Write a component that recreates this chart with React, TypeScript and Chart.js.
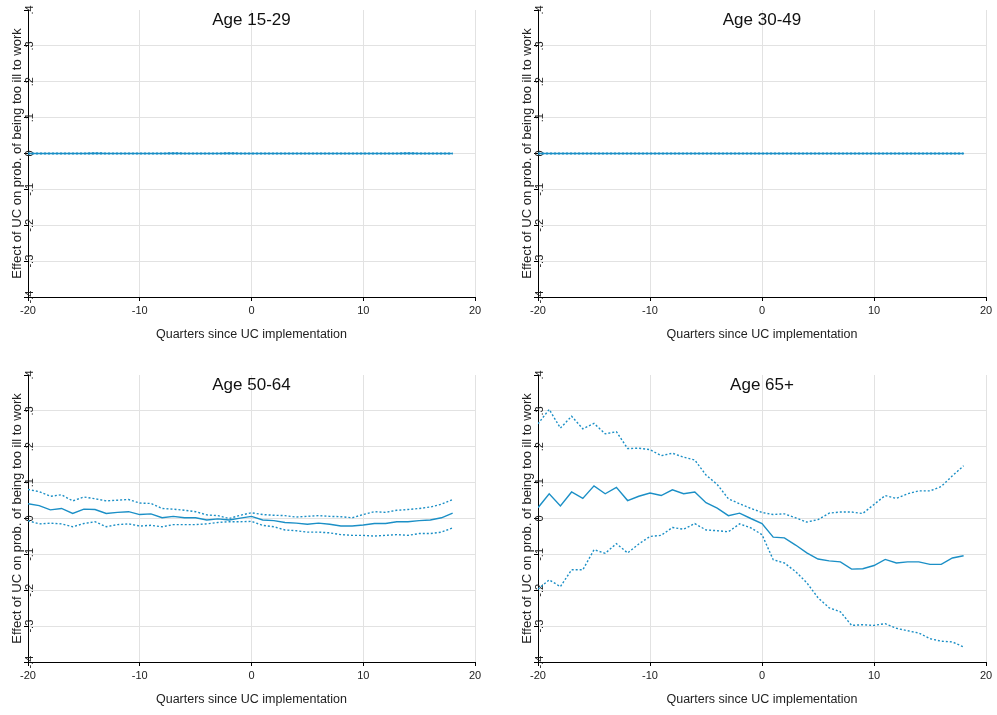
import React, { useEffect, useRef } from "react";
import { Chart, registerables } from "chart.js";

Chart.register(...registerables);

const quarters = [-20, -19, -18, -17, -16, -15, -14, -13, -12, -11, -10, -9, -8, -7, -6, -5, -4, -3, -2, -1, 0, 1, 2, 3, 4, 5, 6, 7, 8, 9, 10, 11, 12, 13, 14, 15, 16, 17, 18];

const yTickValues = [-0.4, -0.3, -0.2, -0.1, 0, 0.1, 0.2, 0.3, 0.4];
const xTickValues = [-20, -10, 0, 10, 20];

const titles = ["Age 15-29", "Age 30-49", "Age 50-64", "Age 65+"];
const xTitle = "Quarters since UC implementation";
const yTitle = "Effect of UC on prob. of being too ill to work";

// Age 15-29
const est1529 = [0, 0, 0, 0, 0, 0, 0.0005, 0, 0, 0, 0, 0, 0, 0.0005, 0, 0, 0, 0, 0.0005, 0, 0, 0, 0, 0, 0, 0, 0, 0, 0, 0, 0, 0, 0, 0, 0.0005, 0, 0, 0, 0];
const hi1529 = [0.001, 0.001, 0.001, 0.001, 0.001, 0.001, 0.0015, 0.001, 0.001, 0.001, 0.001, 0.001, 0.001, 0.0015, 0.001, 0.001, 0.001, 0.001, 0.0015, 0.001, 0.001, 0.001, 0.001, 0.001, 0.001, 0.001, 0.001, 0.001, 0.001, 0.001, 0.001, 0.001, 0.001, 0.001, 0.0015, 0.001, 0.001, 0.001, 0.001];
const lo1529 = [-0.001, -0.001, -0.001, -0.001, -0.001, -0.001, -0.0005, -0.001, -0.001, -0.001, -0.001, -0.001, -0.001, -0.0005, -0.001, -0.001, -0.001, -0.001, -0.0005, -0.001, -0.001, -0.001, -0.001, -0.001, -0.001, -0.001, -0.001, -0.001, -0.001, -0.001, -0.001, -0.001, -0.001, -0.001, -0.0005, -0.001, -0.001, -0.001, -0.001];

// Age 30-49
const est3049 = [0, 0, 0, 0, 0, 0, 0, 0, 0, 0, 0, 0, 0, 0, 0, 0, 0, 0, 0, 0, 0, 0, 0, 0, 0, 0, 0, 0, 0, 0, 0, 0, 0, 0, 0, 0, 0, 0, 0];
const hi3049 = [0.0008, 0.0008, 0.0008, 0.0008, 0.0008, 0.0008, 0.0008, 0.0008, 0.0008, 0.0008, 0.0008, 0.0008, 0.0008, 0.0008, 0.0008, 0.0008, 0.0008, 0.0008, 0.0008, 0.0008, 0.001, 0.001, 0.001, 0.001, 0.001, 0.001, 0.0008, 0.0008, 0.0008, 0.0008, 0.0008, 0.0008, 0.0008, 0.0008, 0.0008, 0.0008, 0.0008, 0.0008, 0.0008];
const lo3049 = [-0.0008, -0.0008, -0.0008, -0.0008, -0.0008, -0.0008, -0.0008, -0.0008, -0.0008, -0.0008, -0.0008, -0.0008, -0.0008, -0.0008, -0.0008, -0.0008, -0.0008, -0.0008, -0.0008, -0.0008, -0.0008, -0.0008, -0.0008, -0.0008, -0.0008, -0.0008, -0.0008, -0.0008, -0.0008, -0.0008, -0.0008, -0.0008, -0.0008, -0.0008, -0.0008, -0.0008, -0.0008, -0.0008, -0.0008];

// Age 50-64
const est5064 = [0.041, 0.036, 0.024, 0.028, 0.014, 0.026, 0.025, 0.014, 0.017, 0.019, 0.011, 0.013, 0.002, 0.006, 0.002, 0.002, -0.004, -0.001, -0.004, 0.001, 0.006, -0.004, -0.006, -0.011, -0.013, -0.016, -0.013, -0.016, -0.021, -0.021, -0.018, -0.014, -0.014, -0.009, -0.009, -0.006, -0.004, 0.002, 0.015];
const hi5064 = [0.081, 0.075, 0.062, 0.066, 0.049, 0.06, 0.055, 0.049, 0.051, 0.053, 0.043, 0.042, 0.028, 0.026, 0.023, 0.019, 0.01, 0.008, 0.0, 0.009, 0.016, 0.011, 0.009, 0.008, 0.004, 0.006, 0.008, 0.006, 0.005, 0.002, 0.011, 0.019, 0.017, 0.023, 0.025, 0.028, 0.032, 0.04, 0.053];
const lo5064 = [-0.006, -0.015, -0.013, -0.015, -0.023, -0.014, -0.009, -0.023, -0.017, -0.015, -0.021, -0.019, -0.023, -0.017, -0.017, -0.017, -0.015, -0.011, -0.009, -0.009, -0.008, -0.019, -0.023, -0.032, -0.034, -0.038, -0.038, -0.04, -0.045, -0.047, -0.047, -0.049, -0.047, -0.045, -0.047, -0.042, -0.042, -0.038, -0.026];

// Age 65+
const est65 = [0.03, 0.069, 0.035, 0.074, 0.056, 0.091, 0.069, 0.087, 0.05, 0.062, 0.071, 0.064, 0.08, 0.069, 0.074, 0.044, 0.029, 0.008, 0.015, 0.0, -0.014, -0.052, -0.054, -0.074, -0.096, -0.113, -0.118, -0.121, -0.141, -0.14, -0.131, -0.114, -0.124, -0.121, -0.121, -0.128, -0.128, -0.11, -0.104];
const hi65 = [0.264, 0.304, 0.252, 0.285, 0.25, 0.265, 0.236, 0.242, 0.195, 0.196, 0.192, 0.175, 0.182, 0.171, 0.163, 0.121, 0.095, 0.055, 0.041, 0.028, 0.017, 0.011, 0.013, 0.002, -0.01, -0.003, 0.015, 0.018, 0.018, 0.014, 0.039, 0.064, 0.056, 0.069, 0.077, 0.077, 0.089, 0.119, 0.147];
const lo65 = [-0.197, -0.171, -0.19, -0.143, -0.143, -0.087, -0.097, -0.07, -0.096, -0.071, -0.05, -0.047, -0.025, -0.03, -0.014, -0.032, -0.034, -0.037, -0.015, -0.026, -0.045, -0.115, -0.124, -0.148, -0.179, -0.221, -0.249, -0.26, -0.298, -0.296, -0.298, -0.293, -0.306, -0.313, -0.319, -0.335, -0.342, -0.344, -0.358];

const panelEst = [est1529, est3049, est5064, est65];
const panelHi = [hi1529, hi3049, hi5064, hi65];
const panelLo = [lo1529, lo3049, lo5064, lo65];

const LINE = "#1b8fc6";
const FONT = "'Liberation Sans', Arial, Helvetica, sans-serif";

type Box = { left: number; top: number; width: number; height: number; padTop: number; padRight: number; xHeight: number; xTitlePad: number };

const boxes: Box[] = [
  { left: 0, top: 0, width: 500, height: 357, padTop: 10, padRight: 25, xHeight: 60, xTitlePad: 15 },
  { left: 510, top: 0, width: 487, height: 357, padTop: 10, padRight: 11, xHeight: 60, xTitlePad: 15 },
  { left: 0, top: 357, width: 500, height: 358, padTop: 18, padRight: 25, xHeight: 53, xTitlePad: 8 },
  { left: 510, top: 357, width: 487, height: 358, padTop: 18, padRight: 11, xHeight: 53, xTitlePad: 8 },
];

function fmtY(v: number): string {
  const r = Math.round(v * 10);
  if (r === 0) return "0";
  return (r < 0 ? "-" : "") + "." + Math.abs(r);
}

const panelTitlePlugin = {
  id: "panelTitle",
  afterDraw(chart: any, _args: any, opts: any) {
    const { ctx, chartArea } = chart;
    ctx.save();
    ctx.font = `17px ${FONT}`;
    ctx.fillStyle = "#111";
    ctx.textAlign = "center";
    ctx.textBaseline = "middle";
    ctx.fillText(opts.text, (chartArea.left + chartArea.right) / 2, chartArea.top + 10);
    ctx.restore();
  },
};

function Panel({ idx }: { idx: number }) {
  const ref = useRef<HTMLCanvasElement | null>(null);
  const b = boxes[idx];
  useEffect(() => {
    if (!ref.current) return;
    const mk = (arr: number[]) => quarters.map((q, i) => ({ x: q, y: arr[i] }));
    const chart = new Chart(ref.current, {
      type: "line",
      data: {
        datasets: [
          { data: mk(panelHi[idx]), borderColor: LINE, borderWidth: 1.4, borderDash: [2, 2], pointRadius: 0, fill: false },
          { data: mk(panelLo[idx]), borderColor: LINE, borderWidth: 1.4, borderDash: [2, 2], pointRadius: 0, fill: false },
          { data: mk(panelEst[idx]), borderColor: LINE, borderWidth: 1.4, pointRadius: 0, fill: false },
        ],
      },
      options: {
        responsive: false,
        animation: false,
        devicePixelRatio: 1,
        layout: { padding: { left: 0, right: b.padRight, top: b.padTop, bottom: 0 } },
        plugins: {
          legend: { display: false },
          tooltip: { enabled: false },
          panelTitle: { text: titles[idx] },
        } as any,
        scales: {
          x: {
            type: "linear",
            min: -20,
            max: 20,
            afterBuildTicks: (scale: any) => {
              scale.ticks = xTickValues.map((v) => ({ value: v }));
            },
            afterFit: (scale: any) => {
              scale.height = b.xHeight;
            },
            ticks: {
              font: { family: FONT, size: 11 },
              color: "#222",
              padding: 3,
              maxRotation: 0,
              minRotation: 0,
              autoSkip: false,
            },
            grid: {
              color: (ctx: any) => (ctx.tick && ctx.tick.value === -20 ? "rgba(0,0,0,0)" : "#e2e2e2"),
              lineWidth: 1,
              tickLength: 4,
              tickColor: "#000",
              drawTicks: true,
            },
            border: { display: true, color: "#000", width: 1 },
            title: {
              display: true,
              text: xTitle,
              font: { family: FONT, size: 12.5 },
              color: "#222",
              padding: { top: 0, bottom: b.xTitlePad },
            },
          },
          y: {
            type: "linear",
            min: -0.4,
            max: 0.4,
            afterBuildTicks: (scale: any) => {
              scale.ticks = yTickValues.map((v) => ({ value: v }));
            },
            afterFit: (scale: any) => {
              scale.width = 28;
            },
            ticks: {
              font: { family: FONT, size: 11 },
              color: "#222",
              minRotation: 90,
              maxRotation: 90,
              mirror: true,
              crossAlign: "center",
              padding: -4,
              autoSkip: false,
              callback: (v: any) => fmtY(Number(v)),
            },
            grid: {
              color: (ctx: any) =>
                ctx.tick && Math.abs(Math.abs(ctx.tick.value) - 0.4) < 1e-6 ? "rgba(0,0,0,0)" : "#e2e2e2",
              lineWidth: 1,
              tickLength: 4,
              tickColor: "#000",
              drawTicks: true,
            },
            border: { display: true, color: "#000", width: 1 },
            title: {
              display: true,
              text: yTitle,
              font: { family: FONT, size: 13 },
              color: "#222",
              padding: { top: 10, bottom: 0 },
            },
          },
        },
      } as any,
      plugins: [panelTitlePlugin],
    });
    return () => chart.destroy();
  }, [idx]);
  return (
    <canvas
      ref={ref}
      width={b.width}
      height={b.height}
      style={{ position: "absolute", left: b.left, top: b.top, width: b.width, height: b.height }}
    />
  );
}

export default function App() {
  return (
    <div style={{ position: "fixed", left: 0, top: 0, width: 997, height: 715, background: "#fff", overflow: "hidden" }}>
      {[0, 1, 2, 3].map((i) => (
        <Panel key={i} idx={i} />
      ))}
    </div>
  );
}
